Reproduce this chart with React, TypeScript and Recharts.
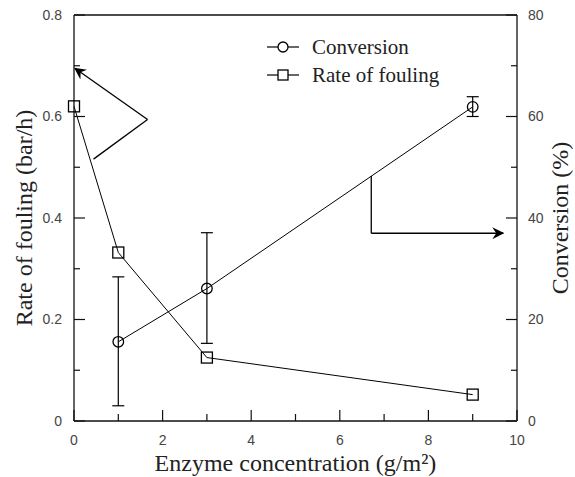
import {
  ComposedChart,
  Line,
  XAxis,
  YAxis,
  ErrorBar,
  ReferenceLine,
  Legend,
} from "recharts";

// enzyme concentration (g/m2)
const concentration = [0, 1, 3, 9];
// rate of fouling (bar/h), left axis
const foulingRate = [0.62, 0.332, 0.125, 0.052];
// conversion (%), right axis, with error bar bounds
const conversion = [null, 15.6, 26.1, 61.9];
const conversionLow = [null, 3.0, 15.3, 60.0];
const conversionHigh = [null, 28.4, 37.1, 63.9];

const xTicks = [0, 1, 2, 3, 4, 5, 6, 7, 8, 9, 10];
const leftTicks = [0, 0.1, 0.2, 0.3, 0.4, 0.5, 0.6, 0.7, 0.8];
const rightTicks = [0, 10, 20, 30, 40, 50, 60, 70, 80];

// annotation arrows in data units (x, fouling-axis y)
const leftArrow = [
  [0.44, 0.516],
  [1.66, 0.594],
  [0.02, 0.695],
];
const rightArrow = [
  [6.71, 0.483],
  [6.71, 0.37],
  [9.69, 0.37],
];

const legendItems = [
  { label: "Conversion", shape: "circle" },
  { label: "Rate of fouling", shape: "square" },
];

const chartData = concentration.map((x, i) => ({
  x,
  fouling: foulingRate[i],
  conversion: conversion[i],
  conversionErr:
    conversion[i] == null
      ? null
      : [
          (conversion[i] as number) - (conversionLow[i] as number),
          (conversionHigh[i] as number) - (conversion[i] as number),
        ],
}));

const W = 575;
const H = 477;
const LEFT = 74;
const RIGHT_W = 58;
const TOP = 15;
const X_H = 56;
const PLOT_RIGHT = W - RIGHT_W;
const PLOT_BOTTOM = H - X_H;

const SERIF = "'Liberation Serif', 'Times New Roman', serif";
const SANS = "'Liberation Sans', Arial, sans-serif";
const TICK_COLOR = "#444";

const XTick = ({ x, payload }: any) => {
  const v = payload.value;
  const major = v % 2 === 0;
  return (
    <g>
      <line x1={x} x2={x} y1={PLOT_BOTTOM} y2={PLOT_BOTTOM - (major ? 11 : 7)} stroke="#111" strokeWidth={1.2} />
      {major && (
        <text x={x} y={PLOT_BOTTOM + 19} dy="0.35em" textAnchor="middle" fontFamily={SANS} fontSize={14} fill={TICK_COLOR}>
          {v}
        </text>
      )}
    </g>
  );
};

const LeftTick = ({ y, payload }: any) => {
  const v = payload.value;
  const major = Math.round(v * 10) % 2 === 0;
  return (
    <g>
      <line x1={LEFT} x2={LEFT + (major ? 11 : 6)} y1={y} y2={y} stroke="#111" strokeWidth={1.2} />
      {major && (
        <text x={LEFT - 12} y={y} dy="0.35em" textAnchor="end" fontFamily={SANS} fontSize={14} fill={TICK_COLOR}>
          {v === 0 ? "0" : v.toFixed(1)}
        </text>
      )}
    </g>
  );
};

const RightTick = ({ y, payload }: any) => {
  const v = payload.value;
  const major = v % 20 === 0;
  return (
    <g>
      <line x1={PLOT_RIGHT} x2={PLOT_RIGHT - (major ? 11 : 6)} y1={y} y2={y} stroke="#111" strokeWidth={1.2} />
      {major && (
        <text x={PLOT_RIGHT + 11} y={y} dy="0.35em" textAnchor="start" fontFamily={SANS} fontSize={14} fill={TICK_COLOR}>
          {v}
        </text>
      )}
    </g>
  );
};

const SquareDot = (p: any) => {
  if (p.cx == null || p.cy == null) return <g key={p.key} />;
  return <rect key={p.key} x={p.cx - 5.5} y={p.cy - 5.5} width={11} height={11} fill="none" stroke="#000" strokeWidth={1.3} />;
};

const CircleDot = (p: any) => {
  if (p.cx == null || p.cy == null) return <g key={p.key} />;
  return <circle key={p.key} cx={p.cx} cy={p.cy} r={5.3} fill="none" stroke="#000" strokeWidth={1.3} />;
};

const arrowShape = (withHead: boolean) => (p: any) => (
  <line
    x1={p.x1}
    y1={p.y1}
    x2={p.x2}
    y2={p.y2}
    stroke="#000"
    strokeWidth={1.3}
    markerEnd={withHead ? "url(#arrowHead)" : undefined}
  />
);

const arrowSegments = (pts: number[][], key: string) =>
  pts.slice(1).map((pt, i) => (
    <ReferenceLine
      key={`${key}-${i}`}
      yAxisId="left"
      segment={[
        { x: pts[i][0], y: pts[i][1] },
        { x: pt[0], y: pt[1] },
      ]}
      shape={arrowShape(i === pts.length - 2)}
    />
  ));

const LegendBox = () => (
  <div style={{ fontFamily: SERIF, fontSize: 21, color: "#222" }}>
    {legendItems.map((it) => (
      <div key={it.label} style={{ display: "flex", alignItems: "center", height: 28, whiteSpace: "nowrap" }}>
        <svg width={34} height={14} style={{ marginRight: 12 }}>
          <line x1={1} x2={33} y1={7} y2={7} stroke="#000" strokeWidth={1.2} />
          {it.shape === "circle" ? (
            <circle cx={17} cy={7} r={5} fill="#fff" stroke="#000" strokeWidth={1.3} />
          ) : (
            <rect x={12} y={2} width={10} height={10} fill="#fff" stroke="#000" strokeWidth={1.3} />
          )}
        </svg>
        <span>{it.label}</span>
      </div>
    ))}
  </div>
);

export default function App() {
  return (
    <div style={{ position: "absolute", left: 0, top: 0, background: "#fff" }}>
      <ComposedChart width={W} height={H} data={chartData} margin={{ top: TOP, right: 0, bottom: 0, left: 0 }}>
        <defs>
          <marker
            id="arrowHead"
            viewBox="0 0 12 12"
            refX={11}
            refY={6}
            markerWidth={12}
            markerHeight={12}
            markerUnits="userSpaceOnUse"
            orient="auto"
          >
            <path d="M0,0 L12,6 L0,12 L4,6 Z" fill="#000" />
          </marker>
        </defs>
        <XAxis
          type="number"
          dataKey="x"
          domain={[0, 10]}
          ticks={xTicks}
          interval={0}
          height={X_H}
          tickLine={false}
          tick={<XTick />}
          axisLine={{ stroke: "#111", strokeWidth: 1.3 }}
          label={{
            content: () => (
              <text x={(LEFT + PLOT_RIGHT) / 2} y={471} textAnchor="middle" fontFamily={SERIF} fontSize={24} fill="#222">
                Enzyme concentration (g/m²)
              </text>
            ),
          }}
        />
        <YAxis
          yAxisId="left"
          type="number"
          domain={[0, 0.8]}
          ticks={leftTicks}
          interval={0}
          width={LEFT}
          tickLine={false}
          tick={<LeftTick />}
          axisLine={{ stroke: "#111", strokeWidth: 1.3 }}
          label={{
            content: () => {
              const cy = (TOP + PLOT_BOTTOM) / 2;
              return (
                <text x={32} y={cy} transform={`rotate(-90 32 ${cy})`} textAnchor="middle" fontFamily={SERIF} fontSize={24} fill="#222">
                  Rate of fouling (bar/h)
                </text>
              );
            },
          }}
        />
        <YAxis
          yAxisId="right"
          orientation="right"
          type="number"
          domain={[0, 80]}
          ticks={rightTicks}
          interval={0}
          width={RIGHT_W}
          tickLine={false}
          tick={<RightTick />}
          axisLine={{ stroke: "#111", strokeWidth: 1.3 }}
          label={{
            content: () => {
              const cy = (TOP + PLOT_BOTTOM) / 2;
              return (
                <text x={568} y={cy} transform={`rotate(-90 568 ${cy})`} textAnchor="middle" fontFamily={SERIF} fontSize={24} fill="#222">
                  Conversion (%)
                </text>
              );
            },
          }}
        />
        <ReferenceLine yAxisId="left" y={0.8} stroke="#111" strokeWidth={1.3} />
        {arrowSegments(leftArrow, "la")}
        {arrowSegments(rightArrow, "ra")}
        <Line
          yAxisId="left"
          dataKey="fouling"
          stroke="#000"
          strokeWidth={1}
          dot={SquareDot}
          activeDot={false}
          isAnimationActive={false}
          type="linear"
        />
        <Line
          yAxisId="right"
          dataKey="conversion"
          stroke="#000"
          strokeWidth={1}
          dot={CircleDot}
          activeDot={false}
          isAnimationActive={false}
          type="linear"
        >
          <ErrorBar dataKey="conversionErr" direction="y" width={6} stroke="#000" strokeWidth={1.2} />
        </Line>
        <Legend
          layout="vertical"
          verticalAlign="middle"
          align="center"
          wrapperStyle={{ left: 266, top: 33, width: 230 }}
          content={() => <LegendBox />}
        />
      </ComposedChart>
    </div>
  );
}
